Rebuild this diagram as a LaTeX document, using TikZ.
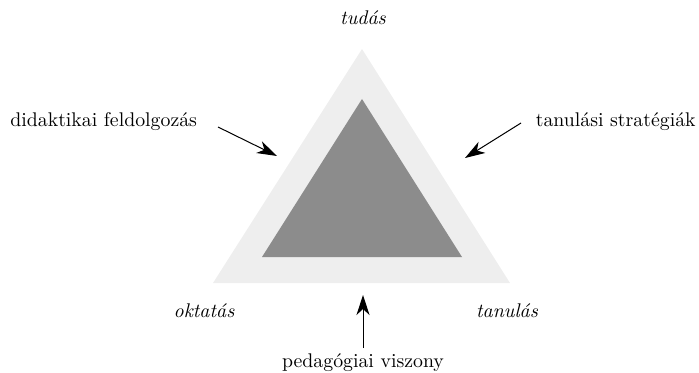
\documentclass[tikz,border=0pt]{standalone}
\usetikzlibrary{arrows.meta}
\definecolor{outergray}{HTML}{EEEEEE}
\definecolor{innergray}{HTML}{8C8C8C}
\tikzset{
  lbl/.style={anchor=base,inner sep=0pt,font=\fontsize{9.9}{12}\selectfont},
  pointer/.style={line width=0.5pt,-{Stealth[length=10pt,width=6.5pt,inset=3pt]}}
}
\begin{document}
\begin{tikzpicture}[x=0.5pt,y=-0.5pt]
\useasboundingbox (0,0) rectangle (699,373);
\fill[outergray] (362,49) -- (510,283) -- (213,283) -- cycle;
\fill[innergray] (362,99) -- (462,257) -- (262,257) -- cycle;
\node[lbl] at (363,25) (knowledge) {\itshape tudás};
\node[lbl] at (204,317) (teaching) {\itshape oktatás};
\node[lbl] at (507,317) (learning) {\itshape tanulás};
\node[lbl,anchor=base west] at (10,127) (didactic) {didaktikai feldolgozás};
\node[lbl,anchor=base east] at (696,127) (strategies) {tanulási stratégiák};
\node[lbl] at (363,367) (relation) {pedagógiai viszony};
\coordinate (didactictip) at (277,156);
\coordinate (strategiestip) at (465,158);
\coordinate (relationtip) at (363,295);
\draw[pointer] (218,127) coordinate (didacticstart) to (didactictip);
\draw[pointer] (521,123) coordinate (strategiesstart) to (strategiestip);
\draw[pointer] (363,348) coordinate (relationstart) to (relationtip);
\end{tikzpicture}
\end{document}
